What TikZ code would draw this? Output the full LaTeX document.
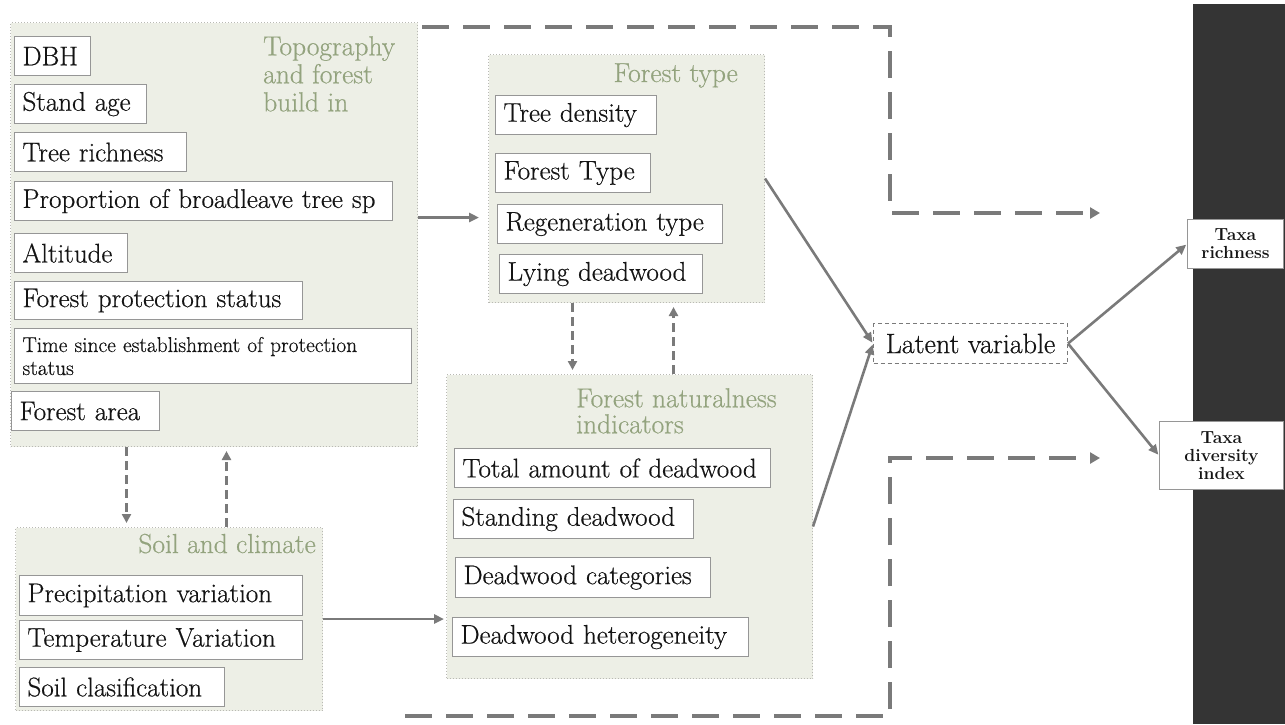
\documentclass[tikz,border=0pt]{standalone}
\usepackage{fontspec}
\newfontfamily\heavyrm{Latin Modern Roman}[FakeBold=0.5]
\usetikzlibrary{arrows.meta}
\definecolor{grpfill}{RGB}{237,239,230}
\definecolor{grpline}{RGB}{185,185,180}
\definecolor{ttl}{RGB}{147,163,126}
\definecolor{itemline}{RGB}{150,150,150}
\definecolor{arrgray}{RGB}{122,122,122}
\definecolor{bardark}{RGB}{52,52,52}
\definecolor{txt}{RGB}{20,20,20}
\tikzset{
  grp/.style={draw=grpline, dotted, line width=1pt, fill=grpfill, anchor=north west, inner sep=0pt},
  item/.style={draw=itemline, line width=1.1pt, fill=white, anchor=north west, inner xsep=8pt, inner ysep=0pt,
    align=left, text=txt, font=\heavyrm\fontsize{27}{31}\selectfont},
  grptitle/.style={text=ttl, inner sep=0pt, font=\heavyrm\fontsize{27.5}{28}\selectfont},
  arr/.style={draw=arrgray, line width=2.6pt, -{Triangle[length=10pt,width=9pt]}},
  darr/.style={draw=arrgray, line width=3pt, dash pattern=on 9pt off 5pt, -{Triangle[length=9pt,width=9pt]}},
  frame/.style={draw=arrgray, line width=3.5pt, dash pattern=on 27pt off 14pt, -{Triangle[length=10pt,width=11pt]}},
  taxa/.style={draw=itemline, line width=1pt, fill=white, anchor=north west, inner sep=0pt, align=center,
    text=txt, font=\fontsize{17.5}{18}\selectfont\bfseries}
}
\begin{document}
\begin{tikzpicture}[x=1pt,y=-1pt]
\useasboundingbox (0,0) rectangle (1285,724);
% dark bar
\fill[bardark] (1193,4) rectangle (1285,724);

% groups
\node[grp, minimum width=407pt, minimum height=424pt] (topo) at (10,22) {};
\node[grp, minimum width=276pt, minimum height=248pt] (ftype) at (488,54) {};
\node[grp, minimum width=366pt, minimum height=304pt] (natural) at (446,374) {};
\node[grp, minimum width=307pt, minimum height=183pt] (soil) at (15,527) {};

% titles
\node[grptitle, anchor=north west, align=left] (ttopo) at (263,36) {Topography\\and forest\\build in};
\node[grptitle, anchor=base east] (tftype) at (738,82) {Forest type};
\node[grptitle, anchor=north west, align=left, font=\heavyrm\fontsize{27.5}{26}\selectfont] (tnat) at (576,388) {Forest naturalness\\indicators};
\node[grptitle, anchor=base east] (tsoil) at (316,553) {Soil and climate};

% topography items
\node[item, text width=60pt, minimum height=39pt] (dbh) at (14,36) {DBH};
\node[item, text width=116pt, minimum height=39pt] (stand) at (14,84) {Stand age};
\node[item, text width=156pt, minimum height=39pt] (trich) at (14,132) {Tree richness};
\node[item, text width=362pt, minimum height=39pt] (prop) at (14,181) {Proportion of broadleave tree sp};
\node[item, text width=97pt, minimum height=39pt] (alt) at (14,233) {Altitude};
\node[item, text width=272pt, minimum height=38pt] (fps) at (14,281) {Forest protection status};
\node[item, text width=381pt, minimum height=55pt, font=\heavyrm\fontsize{21.4}{23}\selectfont] (time) at (14,328) {Time since establishment of protection\\status};
\node[item, text width=132pt, minimum height=39pt] (farea) at (11,391) {Forest area};

% forest type items
\node[item, text width=145pt, minimum height=39pt] (tden) at (495,95) {Tree density};
\node[item, text width=139pt, minimum height=39pt] (ftyp) at (495,153) {Forest Type};
\node[item, text width=209pt, minimum height=39pt] (regen) at (497,204) {Regeneration type};
\node[item, text width=187pt, minimum height=39pt] (lying) at (499,254) {Lying deadwood};

% naturalness items
\node[item, text width=300pt, minimum height=39pt] (tot) at (454,448) {Total amount of deadwood};
\node[item, text width=224pt, minimum height=39pt] (sdw) at (453,499) {Standing deadwood};
\node[item, text width=239pt, minimum height=40pt] (cat) at (455,557) {Deadwood categories};
\node[item, text width=280pt, minimum height=39pt] (het) at (452,617) {Deadwood heterogeneity};

% soil items
\node[item, text width=267pt, minimum height=40pt] (prec) at (19,575) {Precipitation variation};
\node[item, text width=267pt, minimum height=39pt] (temp) at (19,620) {Temperature Variation};
\node[item, text width=189pt, minimum height=39pt] (soilc) at (19,667) {Soil clasification};

% latent and outcomes
\node[draw=arrgray, dashed, dash pattern=on 4pt off 3pt, line width=1pt, fill=white, anchor=north west,
  minimum width=194pt, minimum height=40pt, inner sep=0pt, text=txt, font=\heavyrm\fontsize{28}{30}\selectfont] (latent) at (873,323) {Latent variable};
\node[taxa, minimum width=96pt, minimum height=49pt] (taxaR) at (1187,219) {Taxa\\richness};
\node[taxa, minimum width=124pt, minimum height=68pt] (taxaD) at (1159,421) {Taxa\\diversity\\index};

% solid arrows
\draw[arr, shorten >=9pt] ([yshift=17pt]topo.east) -- ([yshift=-39pt]ftype.west);
\draw[arr, shorten >=2pt] (soil.east) -- (soil.east -| natural.west);
\draw[arr, shorten >=1pt] (ftype.east) -- (latent.west);
\draw[arr, shorten >=1pt] (natural.east) -- (latent.west);
\draw[arr, shorten >=1pt] (latent.east) -- (taxaR.west);
\draw[arr, shorten >=1pt] (latent.east) -- (taxaD.west);

% dashed vertical arrows
\draw[darr, shorten >=4pt] ([xshift=-87.5pt]topo.south) -- ([xshift=-87.5pt]topo.south |- soil.north);
\draw[darr, shorten >=4pt] ([xshift=57.5pt]soil.north) -- ([xshift=57.5pt]soil.north |- topo.south);
\draw[darr, shorten >=4pt] ([xshift=-54pt]ftype.south) -- ([xshift=-54pt]ftype.south |- natural.north);
\draw[darr, shorten >=4pt] ([xshift=47pt]ftype.south |- natural.north) -- ([xshift=47pt]ftype.south);

% dashed frame
\coordinate (ftl) at (422,27);
\coordinate (ftc) at (890,27);
\coordinate (ftr) at (890,213);
\coordinate (fte) at (1100,213);
\coordinate (fbl) at (405,716);
\coordinate (fbc) at (890,716);
\coordinate (fbr) at (890,458);
\coordinate (fbe) at (1100,458);
\draw[frame] (ftl) -- (ftc) -- (ftr) -- (fte);
\draw[frame] (fbl) -- (fbc) -- (fbr) -- (fbe);
\end{tikzpicture}
\end{document}
